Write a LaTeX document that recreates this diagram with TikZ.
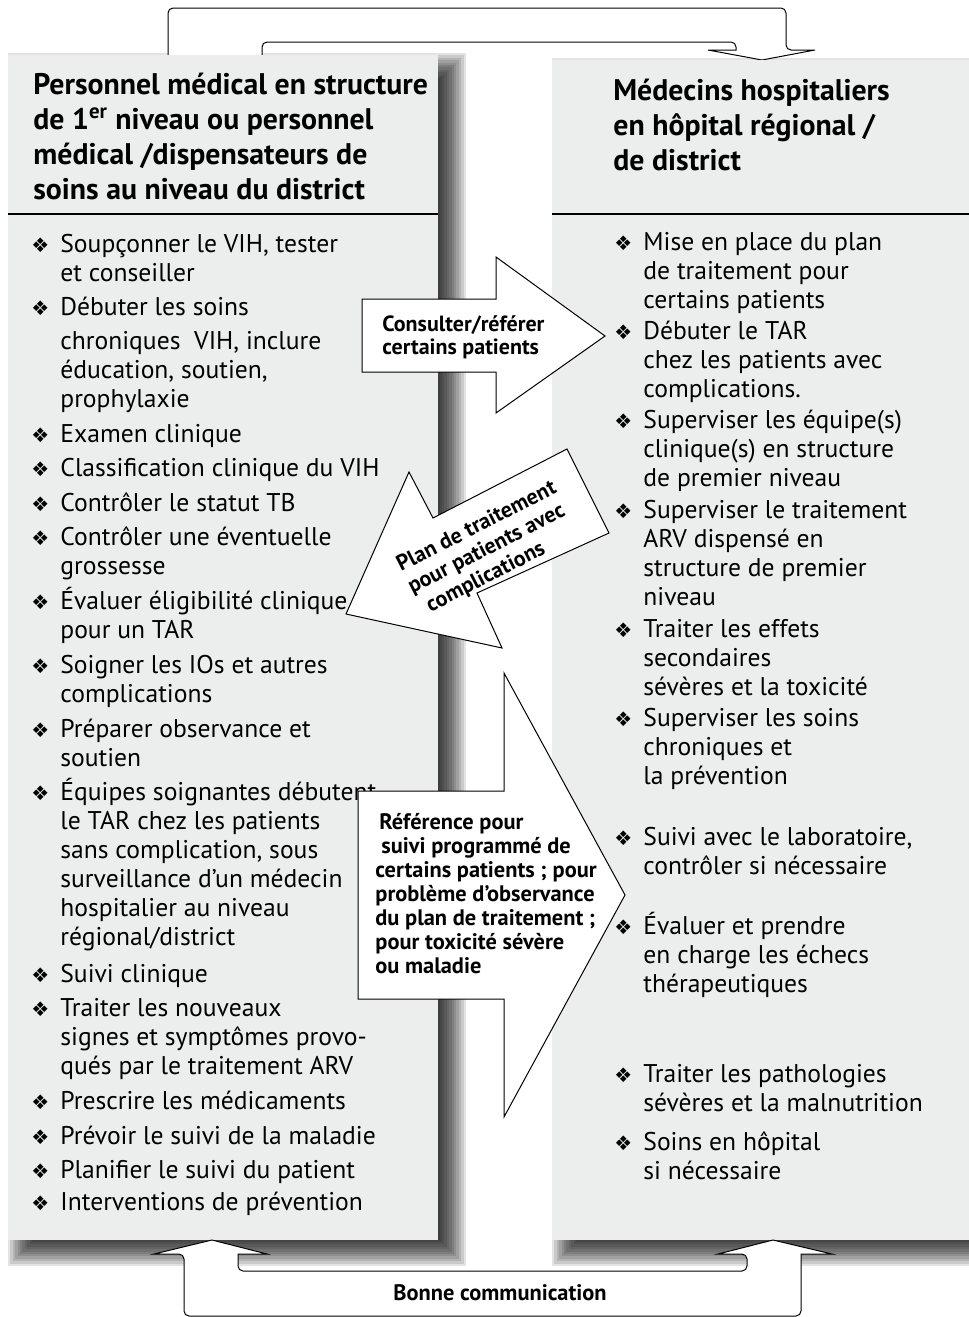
\documentclass[tikz,border=0pt]{standalone}
\usepackage{fontspec}
\setmainfont{PT Sans}
\newfontfamily\symfont{DejaVu Sans}
\usetikzlibrary{positioning}
\definecolor{panelgray}{RGB}{236,238,237}
\newcommand{\bul}{\llap{{\symfont\fontsize{10}{10}\selectfont ❖}\hspace{5.5pt}}}
\newcommand{\dropshadow}[4]{%
  \foreach \k in {0,...,11}
    \fill[black,opacity=0.11] ({#1+2.4*\k},{#2-2+2.4*\k}) rectangle ({#3+28-2.4*\k},{#4+26-2.4*\k});}

% multi-line nodes sit on the baseline of their last line
\tikzset{
  panel/.style={fill=panelgray,draw=none},
  item/.style={anchor=base west,align=left,inner sep=0pt,font=\fontsize{12.8}{14.5}\selectfont},
  head/.style={anchor=base west,align=left,inner sep=0pt,font=\bfseries\fontsize{14.9}{17.4}\selectfont},
  blockarrow/.style={fill=white,draw=black,line width=0.5pt},
  arrowtext/.style={align=left,inner sep=0pt,font=\bfseries\fontsize{11.2}{12}\selectfont}
}

\begin{document}
\begin{tikzpicture}[x=0.5pt,y=-0.5pt]
  \clip (0,0) rectangle (969,1317);
  \useasboundingbox (0,0) rectangle (969,1317);

  % shadows
  \dropshadow{8}{55}{438}{1240}
  \dropshadow{552}{60}{975}{1240}

  % top connector
  \draw[blockarrow,rounded corners=2.5pt] (168,80) -- (168,8) -- (786,8) -- (786,50)
    [sharp corners] -- (815,50) -- (762,60) -- (708,50) -- (736,50)
    [rounded corners=2.5pt] -- (736,42) -- (262,42) -- (262,80) -- cycle;

  % panels
  \fill[panel] (8,55) rectangle (438,1240);
  \fill[panel] (552,60) rectangle (975,1240);
  \draw[line width=0.6pt] (8,214) -- (438,214);
  \draw[line width=0.6pt] (552,214) -- (969,214);

  % headers
  \node[head] (lhead) at (33,199) {Personnel médical en structure\\de 1\textsuperscript{er} niveau ou personnel\\médical /dispensateurs de\\soins au niveau du district};
  \node[head] (rhead) at (613,170) {Médecins hospitaliers\\en hôpital régional /\\de district};

  % left column
  \node[item] (l1) at (60,281) {\bul Soupçonner le VIH, tester\\et conseiller};
  \node[item] (l2) at (60,407) {\bul Débuter les soins\\[2.5pt]chroniques\ \ VIH, inclure\\éducation, soutien,\\prophylaxie};
  \node[item] (l3) at (60,442) {\bul Examen clinique};
  \node[item] (l4) at (60,476) {\bul Classification clinique du VIH};
  \node[item] (l5) at (60,511) {\bul Contrôler le statut TB};
  \node[item] (l6) at (60,574) {\bul Contrôler une éventuelle\\grossesse};
  \node[item] (l7) at (60,638) {\bul Évaluer éligibilité clinique\\pour un TAR};
  \node[item] (l8) at (60,702) {\bul Soigner les IOs et autres\\complications};
  \node[item] (l9) at (60,766) {\bul Préparer observance et\\soutien};
  \node[item] (l10) at (60,945) {\bul Équipes soignantes débutent\\le TAR chez les patients\\sans complication, sous\\surveillance d’un médecin\\hospitalier au niveau\\régional/district};
  \node[item] (l11) at (60,982) {\bul Suivi clinique};
  \node[item] (l12) at (60,1074) {\bul Traiter les nouveaux\\signes et symptômes provo-\\qués par le traitement ARV};
  \node[item] (l13) at (60,1109) {\bul Prescrire les médicaments};
  \node[item] (l14) at (60,1144) {\bul Prévoir le suivi de la maladie};
  \node[item] (l15) at (60,1178) {\bul Planifier le suivi du patient};
  \node[item] (l16) at (60,1210) {\bul Interventions de prévention};

  % right column
  \node[item] (r1) at (643,308) {\bul Mise en place du plan\\de traitement pour\\certains patients};
  \node[item] (r2) at (643,397) {\bul Débuter le TAR\\chez les patients avec\\complications.};
  \node[item] (r3) at (643,486) {\bul Superviser les équipe(s)\\clinique(s) en structure\\de premier niveau};
  \node[item] (r4) at (643,605) {\bul Superviser le traitement\\ARV dispensé en\\structure de premier\\niveau};
  \node[item] (r5) at (643,695) {\bul Traiter les effets\\secondaires\\sévères et la toxicité};
  \node[item] (r6) at (643,784) {\bul Superviser les soins\\chroniques et\\la prévention};
  \node[item] (r7) at (643,874) {\bul Suivi avec le laboratoire,\\contrôler si nécessaire};
  \node[item] (r8) at (643,992) {\bul Évaluer et prendre\\en charge les échecs\\thérapeutiques};
  \node[item] (r9) at (643,1111) {\bul Traiter les pathologies\\sévères et la malnutrition};
  \node[item] (r10) at (643,1179) {\bul Soins en hôpital\\si nécessaire};

  % block arrows between the panels
  \draw[blockarrow] (362,299) -- (496,299) -- (496,257) -- (605,336) -- (496,413) -- (496,372) -- (362,372) -- cycle;
  \node[arrowtext,anchor=base west,font=\bfseries\fontsize{11}{11.5}\selectfont] (consult) at (382,354) {Consulter/référer\\certains patients};

  \draw[blockarrow] (346,614) -- (409,472) -- (433,518) -- (567,449) -- (609,533) -- (477,593) -- (502,648) -- cycle;
  \node[arrowtext,rotate=27,font=\bfseries\fontsize{11}{12.3}\selectfont] (plan) at (488,549) {Plan de traitement\\pour patients avec\\\hspace{4pt}complications};

  \draw[blockarrow] (358,791) -- (504,791) -- (504,673) -- (625,895) -- (504,1117) -- (504,999) -- (358,999) -- cycle;
  \node[arrowtext,anchor=base west] (refer) at (375,973) {\hspace{2pt}Référence pour\\\hspace{3pt}suivi programmé de\\certains patients ; pour\\problème d’observance\\du plan de traitement ;\\pour toxicité sévère\\ou maladie};

  % bottom connector
  \draw[blockarrow,rounded corners=2.5pt] (238,1254) -- (238,1271) -- (747,1271) -- (747,1254)
    [sharp corners] -- (718,1254) -- (773,1240) -- (832,1254) -- (801,1254)
    [rounded corners=2.5pt] -- (801,1316) -- (184,1316) -- (184,1254)
    [sharp corners] -- (154,1254) -- (212,1240) -- (267,1254) -- cycle;
  \node[arrowtext] (comm) at (500,1293) {Bonne communication};
\end{tikzpicture}
\end{document}
